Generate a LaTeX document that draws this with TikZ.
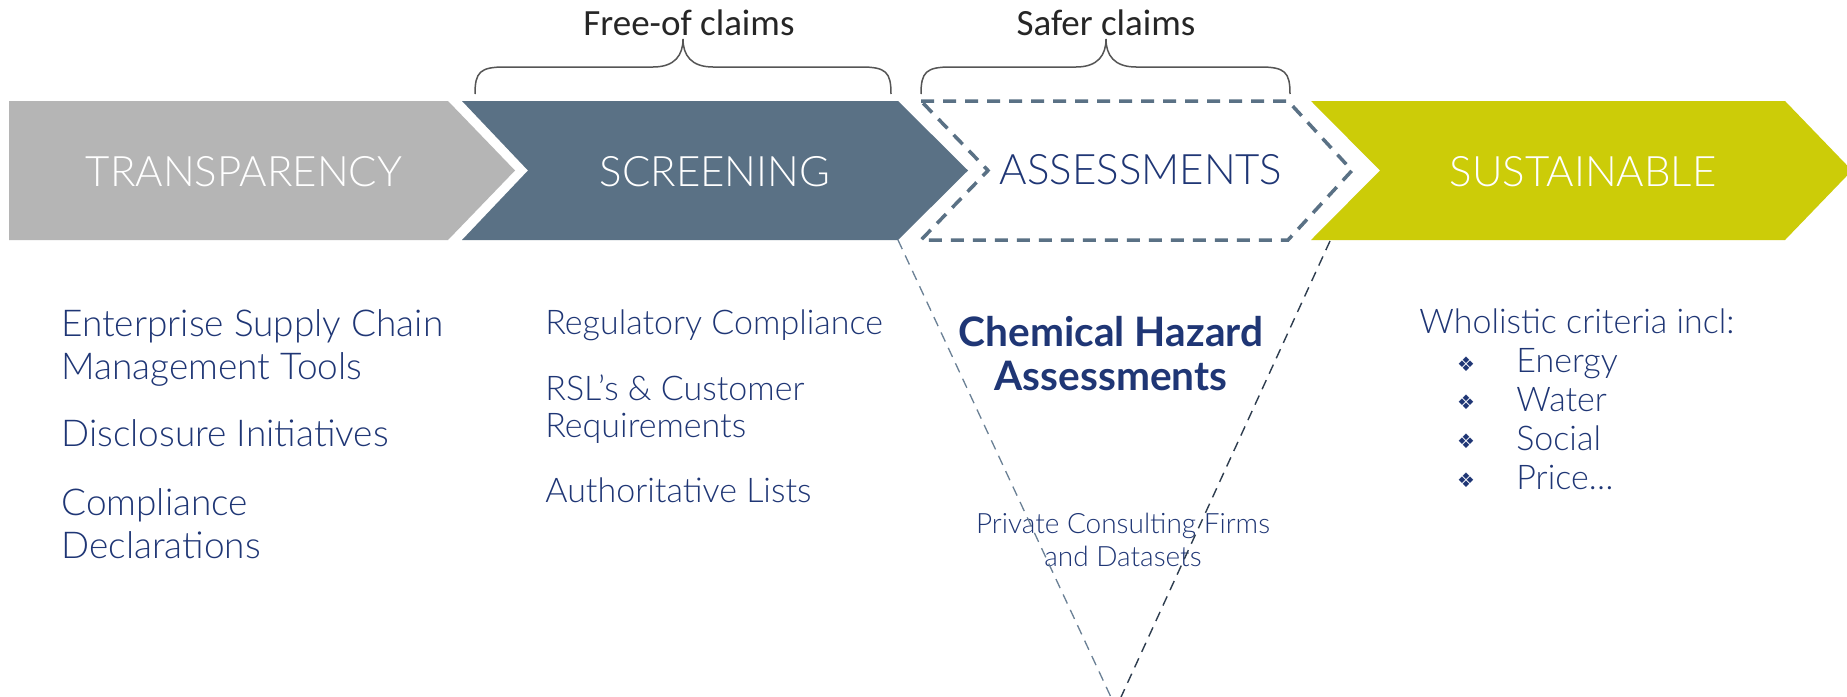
\documentclass[tikz,border=0pt]{standalone}
\usepackage{fontspec}
\setmainfont{Lato}
\newfontfamily\lightfont{Lato Light}
\newfontfamily\calfont{Carlito}
\newfontfamily\symfont{DejaVu Sans}
\definecolor{tgray}{HTML}{B5B5B5}
\definecolor{slate}{HTML}{5A7185}
\definecolor{lime}{HTML}{CCCC08}
\definecolor{navy}{HTML}{1F3675}
\definecolor{bracegray}{HTML}{555555}
\definecolor{vdark}{HTML}{2E3D4F}
\definecolor{vlight}{HTML}{6A8095}
\tikzset{
  title/.style={font=\lightfont\fontsize{21}{25}\selectfont, text=white, anchor=base, inner sep=0},
  claim/.style={font=\calfont\fontsize{18.5}{21}\selectfont, text=black!85, anchor=base, inner sep=0},
  bodyL/.style={font=\lightfont\fontsize{18.5}{21.5}\selectfont, text=navy, align=left, anchor=north west, inner sep=0},
  body/.style={font=\lightfont\fontsize{17}{18.5}\selectfont, text=navy, align=left, anchor=north west, inner sep=0},
  itemtext/.style={font=\lightfont\fontsize{17}{18.5}\selectfont, text=navy, anchor=base west, inner sep=0},
  bullet/.style={font=\symfont\fontsize{10}{11}\selectfont, text=navy, anchor=center, inner sep=0},
  chem/.style={font=\bfseries\fontsize{20.3}{22}\selectfont, text=navy, align=center, anchor=north, inner sep=0},
  priv/.style={font=\lightfont\fontsize{14}{16.5}\selectfont, text=navy, align=center, anchor=north, inner sep=0},
  bracestyle/.style={draw=bracegray, line width=0.75pt},
  dashbox/.style={draw=slate, line width=1.75pt, dash pattern=on 6.5pt off 4.5pt},
  vleft/.style={draw=vlight, line width=0.65pt, dash pattern=on 5pt off 3.5pt},
  vright/.style={draw=vdark, line width=0.7pt, dash pattern=on 5pt off 3.5pt}
}
\begin{document}
\begin{tikzpicture}[x=0.5pt,y=-0.5pt]
\useasboundingbox (0,0) rectangle (1847,696);
\clip (0,0) rectangle (1847,696);
\fill[white] (0,0) rectangle (1847,696);

% chevrons
\fill[tgray] (9,101) -- (448,101) -- (515,170.5) -- (448,240) -- (9,240) -- cycle;
\fill[slate] (462,101) -- (898,101) -- (968,170.5) -- (898,240) -- (462,240) -- (528,170.5) -- cycle;
\draw[dashbox] (921,101) -- (1288,101) -- (1352,170.5) -- (1288,240) -- (921,240) -- (988,170.5) -- cycle;
\fill[lime] (1311,101) -- (1785,101) -- (1852,170.5) -- (1785,240) -- (1311,240) -- (1380,170.5) -- cycle;

% titles
\node[title] (t1) at (244,186) {TRANSPARENCY};
\node[title] (t2) at (715,186) {SCREENING};
\node[title, text=navy] (t3) at (1141,184) {ASSESSMENTS};
\node[title] (t4) at (1583,186) {SUSTAINABLE};

% braces
\draw[bracestyle] (475,94) .. controls (475,72) and (480,67) .. (505,67) -- (653,67)
  .. controls (675,67) and (683,55) .. (683,39)
  .. controls (683,55) and (691,67) .. (713,67) -- (861,67)
  .. controls (886,67) and (891,72) .. (891,94);
\draw[bracestyle] (921,94) .. controls (921,72) and (926,67) .. (951,67) -- (1076,67)
  .. controls (1098,67) and (1106,55) .. (1106,39)
  .. controls (1106,55) and (1114,67) .. (1136,67) -- (1260,67)
  .. controls (1285,67) and (1290,72) .. (1290,94);
\node[claim] (c1) at (689,35) {Free-of claims};
\node[claim] (c2) at (1106,35) {Safer claims};

% left column
\node[bodyL] (l1) at (61,309) {Enterprise Supply Chain\\Management Tools};
\node[bodyL] (l2) at (61,419) {Disclosure Initiatives};
\node[bodyL] (l3) at (61,488) {Compliance\\Declarations};

% middle column
\node[body] (m1) at (545,309) {Regulatory Compliance};
\node[body] (m2) at (545,374) {RSL’s \& Customer\\Requirements};
\node[body] (m3) at (545,477) {Authoritative Lists};

% assessments column
\node[chem] (ch) at (1111,316) {Chemical Hazard\\Assessments};
\node[priv] (pr) at (1123,513) {Private Consulting Firms\\and Datasets};

% right column
\node[itemtext] (w) at (1419,333) {Wholistic criteria incl:};
\node[bullet] (b1) at (1466,364) {❖};
\node[itemtext] (i1) at (1516,372) {Energy};
\node[bullet] (b2) at (1466,402) {❖};
\node[itemtext] (i2) at (1516,411) {Water};
\node[bullet] (b3) at (1466,441) {❖};
\node[itemtext] (i3) at (1516,450) {Social};
\node[bullet] (b4) at (1466,480) {❖};
\node[itemtext] (i4) at (1516,489) {Price…};

% funnel lines
\coordinate (vl) at (898,240);
\coordinate (vr) at (1330,241);
\coordinate (apex) at (1116,708);
\draw[vleft] (vl) -- (apex);
\draw[vright] (vr) -- (apex);
\end{tikzpicture}
\end{document}
